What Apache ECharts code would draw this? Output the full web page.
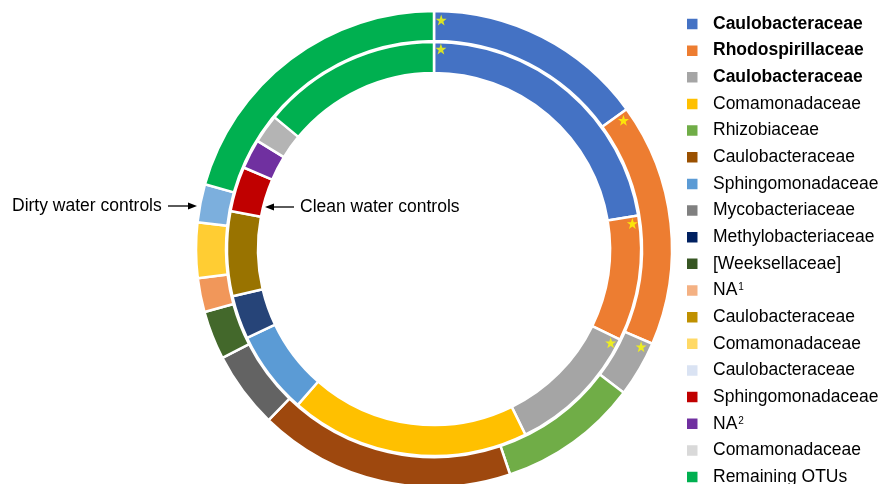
<!DOCTYPE html>
<html>
<head>
<meta charset="utf-8">
<script src="https://cdn.jsdelivr.net/npm/echarts@6/dist/echarts.min.js"></script>
<style>html,body{margin:0;padding:0;background:#fff;}#c{width:879px;height:484px;}</style>
</head>
<body>
<div id="c"></div>
<script>
// ---- data ----
var legendNames = ['Caulobacteraceae','Rhodospirillaceae','Caulobacteraceae','Comamonadaceae','Rhizobiaceae','Caulobacteraceae','Sphingomonadaceae','Mycobacteriaceae','Methylobacteriaceae','[Weeksellaceae]','NA1','Caulobacteraceae','Comamonadaceae','Caulobacteraceae','Sphingomonadaceae','NA2','Comamonadaceae','Remaining OTUs'];
var boldItems = [0, 1, 2];
var starredItems = [0, 1, 2];
// outer ring: dirty water controls (legend index, percent)
var dirtyIdx = [0, 1, 2, 4, 5, 7, 9, 10, 12, 13, 17];
var dirtyVal = [15.0, 16.5, 3.8, 9.5, 17.4, 5.2, 3.3, 2.3, 3.75, 2.6, 20.6];
// inner ring: clean water controls
var cleanIdx = [0, 1, 2, 3, 6, 8, 11, 14, 15, 16, 17];
var cleanVal = [22.4, 9.8, 10.5, 18.7, 6.5, 3.4, 6.6, 3.5, 2.3, 2.25, 14.0];
var annotations = ['Dirty water controls', 'Clean water controls'];

// ---- styles ----
var ringColors = ['#4472c4','#ed7d31','#a5a5a5','#ffc000','#70ad47','#9e480e','#5b9bd5','#636363','#264478','#43682b','#f1975a','#997300','#ffcd33','#7cafdd','#c00000','#7030a0','#b4b4b4','#00b050'];
var legendColors = ['#4472c4','#ed7d31','#a5a5a5','#ffc000','#70ad47','#9a5000','#5b9bd5','#808080','#002060','#375623','#f4b183','#bf9000','#ffd966','#dae3f3','#c00000','#7030a0','#d9d9d9','#00b050'];
var FONT = 'Liberation Sans, Arial, sans-serif';
var FS = 17.5;
var CENTER = [434, 249];

function key(i) { return legendNames[i] + '#' + i; }

function ringData(idx, val) {
  return idx.map(function (li, k) {
    return { name: key(li), value: val[k], itemStyle: { color: ringColors[li] } };
  });
}

function starPoints(idx, val, r, offsetPct) {
  var total = val.reduce(function (a, b) { return a + b; }, 0);
  var cum = 0, pts = [];
  idx.forEach(function (li, k) {
    if (starredItems.indexOf(li) >= 0) pts.push([r, cum / total * 100 + offsetPct]);
    cum += val[k];
  });
  return pts;
}

var chart = echarts.init(document.getElementById('c'), null, { renderer: 'canvas' });

var legendData = legendNames.map(function (n, i) {
  return { name: key(i), itemStyle: { color: legendColors[i] } };
});

var starPath = 'path://M50,0 L61.8,35.1 L97.6,35.1 L68.8,56.7 L79.4,91 L50,70.2 L20.6,91 L31.2,56.7 L2.4,35.1 L38.2,35.1 Z';

var option = {
  animation: false,
  backgroundColor: '#fff',
  legend: {
    type: 'plain',
    orient: 'vertical',
    left: 685,
    top: 14,
    height: 700,
    padding: 0,
    itemWidth: 12.5,
    itemHeight: 12.5,
    itemGap: 6.65,
    selectedMode: false,
    icon: 'rect',
    data: legendData,
    formatter: function (name) {
      var i = parseInt(name.split('#').pop(), 10);
      var n = legendNames[i];
      if (boldItems.indexOf(i) >= 0) return '{b|' + n + '}';
      var m = n.match(/^NA(\d)$/);
      if (m) return '{n|NA}{s|' + m[1] + '}';
      return '{n|' + n + '}';
    },
    textStyle: {
      fontFamily: FONT,
      fontSize: FS,
      lineHeight: 20,
      color: '#000',
      padding: [0, 0, 0, 9.5],
      rich: {
        b: { fontFamily: FONT, fontSize: FS, fontWeight: 'bold', color: '#000', lineHeight: 20 },
        n: { fontFamily: FONT, fontSize: FS, color: '#000', lineHeight: 20 },
        s: { fontFamily: FONT, fontSize: 10, color: '#000', lineHeight: 20, padding: [0, 0, 6, 1] }
      }
    }
  },
  polar: { center: CENTER, radius: 237 },
  angleAxis: { type: 'value', min: 0, max: 100, startAngle: 90, clockwise: true, show: false },
  radiusAxis: { type: 'value', min: 0, max: 237, show: false },
  series: [
    {
      name: annotations[0],
      type: 'pie',
      center: CENTER,
      radius: [208, 238],
      startAngle: 90,
      clockwise: true,
      label: { show: false },
      labelLine: { show: false },
      emphasis: { disabled: true },
      itemStyle: { borderColor: '#fff', borderWidth: 2.5 },
      data: ringData(dirtyIdx, dirtyVal)
    },
    {
      name: annotations[1],
      type: 'pie',
      center: CENTER,
      radius: [176, 207],
      startAngle: 90,
      clockwise: true,
      label: { show: false },
      labelLine: { show: false },
      emphasis: { disabled: true },
      itemStyle: { borderColor: '#fff', borderWidth: 2.5 },
      data: ringData(cleanIdx, cleanVal)
    },
    {
      type: 'scatter',
      coordinateSystem: 'polar',
      symbol: starPath,
      symbolSize: 11,
      itemStyle: { color: '#ffff00' },
      emphasis: { disabled: true },
      silent: true,
      z: 10,
      data: starPoints(dirtyIdx, dirtyVal, 229, 0.5).concat(starPoints(cleanIdx, cleanVal, 200, 0.55))
    }
  ],
  graphic: [
    { type: 'text', left: 12, top: 197, style: { text: annotations[0], font: FS + 'px ' + FONT, fill: '#000' } },
    { type: 'line', shape: { x1: 168, y1: 206, x2: 190, y2: 206 }, style: { stroke: '#000', lineWidth: 1.3 } },
    { type: 'polygon', shape: { points: [[197, 206], [188, 202.5], [188, 209.5]] }, style: { fill: '#000' } },
    { type: 'text', left: 300, top: 198, style: { text: annotations[1], font: FS + 'px ' + FONT, fill: '#000' } },
    { type: 'line', shape: { x1: 272, y1: 207, x2: 294, y2: 207 }, style: { stroke: '#000', lineWidth: 1.3 } },
    { type: 'polygon', shape: { points: [[265, 207], [274, 203.5], [274, 210.5]] }, style: { fill: '#000' } }
  ]
};
chart.setOption(option);
</script>
</body>
</html>
